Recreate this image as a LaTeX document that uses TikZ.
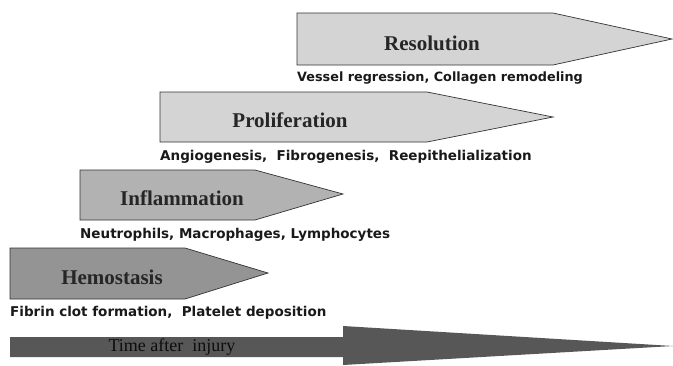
\documentclass[tikz,border=0pt]{standalone}
\usepackage{fontspec}
\setmainfont{Liberation Serif}
\newfontfamily\subfont{DejaVu Sans}
\begin{document}
\begin{tikzpicture}[x=1pt,y=-1pt,
  phase/.style={draw=black!80,line width=0.7pt},
  phaselabel/.style={font=\fontsize{21}{21}\selectfont\bfseries,inner sep=0pt,text=black!85},
  subtext/.style={font=\subfont\bfseries\fontsize{13.5}{15}\selectfont,inner sep=0pt,anchor=west,text=black!90}]
\useasboundingbox (0,0) rectangle (673,365);
% Resolution
\filldraw[phase,fill=black!17] (297,13) -- (553,13) -- (672,39) -- (553,65) -- (297,65) -- cycle;
\node[phaselabel] (res) at (432,43) {Resolution};
\node[subtext,font=\subfont\bfseries\fontsize{12.8}{14}\selectfont] (ressub) at (297,78) {Vessel regression, Collagen remodeling};
% Proliferation
\filldraw[phase,fill=black!17] (160,92) -- (427,92) -- (553,117) -- (427,142) -- (160,142) -- cycle;
\node[phaselabel] (pro) at (290,120) {Proliferation};
\node[subtext] (prosub) at (160,157) {Angiogenesis,\ \ Fibrogenesis,\ \ Reepithelialization};
% Inflammation
\filldraw[phase,fill=black!30] (80,170) -- (255,170) -- (343,194) -- (255,220) -- (80,220) -- cycle;
\node[phaselabel] (inf) at (182,198) {Inflammation};
\node[subtext] (infsub) at (80,235) {Neutrophils, Macrophages, Lymphocytes};
% Hemostasis
\filldraw[phase,fill=black!42] (10,248) -- (185,248) -- (268,273) -- (185,299) -- (10,299) -- cycle;
\node[phaselabel] (hem) at (112,277) {Hemostasis};
\node[subtext] (hemsub) at (10,313) {Fibrin clot formation,\ \ Platelet deposition};
% Time arrow
\fill[black!66] (10,337) -- (343,337) -- (343,326) -- (673,346) -- (343,365) -- (343,357) -- (10,357) -- cycle;
\node[font=\fontsize{18}{18}\selectfont,inner sep=0pt,text=black!95] (time) at (172,347) {Time after\ \ injury};
\end{tikzpicture}
\end{document}
